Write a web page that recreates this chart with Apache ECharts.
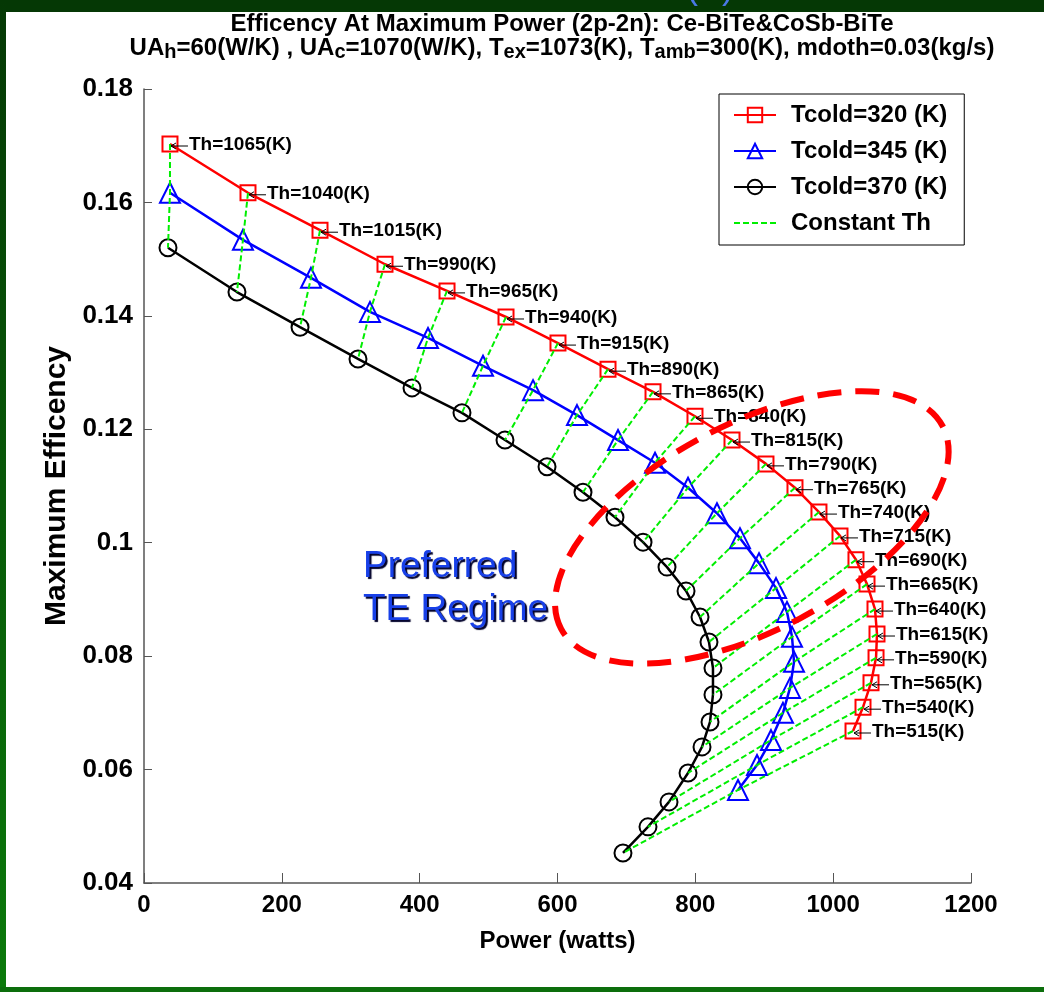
<!DOCTYPE html>
<html>
<head>
<meta charset="utf-8">
<script src="https://cdn.jsdelivr.net/npm/echarts@6/dist/echarts.min.js"></script>
<style>
  html, body { margin: 0; padding: 0; background: #ffffff; }
  #wrap { position: relative; width: 1044px; height: 992px; overflow: hidden; background: #ffffff; }
  .band { position: absolute; }
  #bandTop { left: 0; top: 0; width: 1044px; height: 12px; background: #053805; }
  #bandLeft { left: 0; top: 0; width: 6px; height: 992px; background: linear-gradient(#053805, #0b7a0b); }
  #bandBottom { left: 0; top: 987px; width: 1044px; height: 5px; background: #0c6e0c; }
  #chart { position: absolute; left: 0; top: 0; width: 1044px; height: 992px; }
</style>
</head>
<body>
<div id="wrap">
  <div class="band" id="bandTop"></div>
  <div class="band" id="bandLeft"></div>
  <div class="band" id="bandBottom"></div>
  <div id="chart"></div>
</div>
<script>
// Hot-side temperature of each operating point (K), common to all three cold-side curves
const thK = [1065, 1040, 1015, 990, 965, 940, 915, 890, 865, 840, 815, 790,
             765, 740, 715, 690, 665, 640, 615, 590, 565, 540, 515];

// Tcold = 320 K
const powerTc320 = [37.7, 150.9, 255.4, 349.7, 439.7, 525.3, 600.7, 673.3, 738.6, 799.5, 853.2, 902.5,
                    944.6, 979.4, 1009.9, 1033.1, 1049.1, 1060.7, 1063.6, 1062.2, 1054.9, 1043.3, 1028.8];
const effTc320 = [0.1703, 0.1617, 0.1551, 0.1491, 0.1444, 0.1398, 0.1352, 0.1306, 0.1266, 0.1223, 0.1181, 0.1139,
                  0.1097, 0.1054, 0.1012, 0.0970, 0.0927, 0.0883, 0.0839, 0.0797, 0.0753, 0.0710, 0.0668];

// Tcold = 345 K
const powerTc345 = [37.7, 143.6, 242.3, 327.9, 412.1, 491.9, 564.5, 628.3, 687.8, 741.5, 789.4, 831.4,
                    864.8, 892.4, 917.1, 933.0, 940.3, 943.2, 937.4, 927.2, 909.8, 889.5, 861.9];
const effTc345 = [0.1617, 0.1534, 0.1467, 0.1407, 0.1361, 0.1312, 0.1269, 0.1225, 0.1181, 0.1141, 0.1097, 0.1052,
                  0.1008, 0.0964, 0.0920, 0.0878, 0.0834, 0.0790, 0.0744, 0.0700, 0.0652, 0.0608, 0.0564];

// Tcold = 370 K
const powerTc370 = [34.8, 134.9, 226.4, 310.5, 388.9, 461.4, 523.8, 584.8, 637.0, 683.4, 724.1, 758.9,
                    786.5, 806.8, 819.8, 825.6, 825.6, 821.3, 809.7, 789.4, 761.8, 731.3, 695.0];
const effTc370 = [0.1520, 0.1442, 0.1380, 0.1324, 0.1273, 0.1229, 0.1181, 0.1134, 0.1089, 0.1045, 0.1001, 0.0957,
                  0.0915, 0.0869, 0.0825, 0.0779, 0.0732, 0.0684, 0.0640, 0.0594, 0.0543, 0.0499, 0.0453];

const xTicks = [0, 200, 400, 600, 800, 1000, 1200];
const yTicks = [0.04, 0.06, 0.08, 0.1, 0.12, 0.14, 0.16, 0.18];

const legendNames = ['Tcold=320 (K)', 'Tcold=345 (K)', 'Tcold=370 (K)', 'Constant Th'];

const FONT = '"Liberation Sans", Arial, Helvetica, sans-serif';

const chart = echarts.init(document.getElementById('chart'), null, { renderer: 'canvas' });

const pairs = (xs, ys) => xs.map((x, i) => [x, ys[i]]);

// Curve with hollow (unfilled) markers
function curveSeries(name, xs, ys, color, symbol, size) {
  return {
    name: name,
    type: 'line',
    data: pairs(xs, ys),
    symbol: symbol,
    symbolSize: size,
    showAllSymbol: true,
    lineStyle: { color: color, width: 2.5 },
    itemStyle: { color: 'rgba(0,0,0,0)', borderColor: color, borderWidth: 2 },
    emphasis: { disabled: true },
    z: 3,
    animation: false
  };
}

// Dashed iso-Th connectors: one short polyline per hot-side temperature
const constThSeries = thK.map((t, i) => ({
  name: 'Constant Th',
  type: 'line',
  data: [[powerTc320[i], effTc320[i]], [powerTc345[i], effTc345[i]], [powerTc370[i], effTc370[i]]],
  symbol: 'none',
  lineStyle: { color: '#00ee00', width: 2, type: [6, 3] },
  itemStyle: { color: '#00ee00', opacity: 0 },
  emphasis: { disabled: true },
  z: 4,
  animation: false
}));

// Arrow + "Th=...(K)" annotation attached to each Tcold=320 point
const labelSeries = {
  name: 'thLabels',
  type: 'custom',
  coordinateSystem: 'cartesian2d',
  data: thK.map((t, i) => [powerTc320[i], effTc320[i], t]),
  encode: { x: 0, y: 1 },
  clip: false,
  silent: true,
  z: 6,
  animation: false,
  renderItem: function (params, api) {
    const p = api.coord([api.value(0), api.value(1)]);
    const x = p[0], y = p[1] + 2;
    return {
      type: 'group',
      children: [
        { type: 'line', shape: { x1: x + 1, y1: y, x2: x + 18, y2: y },
          style: { stroke: '#000', lineWidth: 1 } },
        { type: 'polyline', shape: { points: [[x + 6, y - 3], [x + 1, y], [x + 6, y + 3]] },
          style: { stroke: '#000', lineWidth: 1, fill: null } },
        { type: 'text', x: x + 19, y: p[1] + 1,
          style: { text: 'Th=' + api.value(2) + '(K)', fontSize: 19, fontWeight: 'bold',
                   fontFamily: FONT, fill: '#000', align: 'left', verticalAlign: 'middle' } }
      ]
    };
  }
};

const option = {
  backgroundColor: 'transparent',
  animation: false,
  title: [
    {
      text: 'Efficency At Maximum Power (2p-2n): Ce-BiTe&CoSb-BiTe',
      left: 557, top: 7, textAlign: 'center',
      textStyle: { fontSize: 24, fontWeight: 'bold', fontFamily: FONT, color: '#000' }
    },
    {
      text: '{n|UA}{s|h}{n|=60(W/K) , UA}{s|c}{n|=1070(W/K), T}{s|ex}{n|=1073(K), T}{s|amb}{n|=300(K), mdoth=0.03(kg/s)}',
      left: 557, top: 31, textAlign: 'center',
      textStyle: {
        rich: {
          n: { fontSize: 24, fontWeight: 'bold', fontFamily: FONT, color: '#000', lineHeight: 26, verticalAlign: 'top' },
          s: { fontSize: 20, fontWeight: 'bold', fontFamily: FONT, color: '#000', lineHeight: 22, padding: [20, 0, 0, 0], verticalAlign: 'bottom' }
        }
      }
    }
  ],
  grid: { left: 144, right: 73, top: 89, bottom: 109, containLabel: false },
  legend: {
    data: legendNames.slice(0, 3).concat([{ name: legendNames[3], itemStyle: { opacity: 0 } }]),
    orient: 'vertical',
    left: 719, top: 94,
    padding: [9, 17, 10, 14],
    itemGap: 12,
    itemWidth: 42,
    itemHeight: 18,
    backgroundColor: '#fff',
    borderColor: '#000',
    borderWidth: 1,
    borderRadius: 0,
    selectedMode: false,
    textStyle: { fontSize: 24, fontWeight: 'bold', fontFamily: FONT, color: '#000', padding: [0, 0, 0, 10] }
  },
  xAxis: {
    type: 'value',
    min: xTicks[0], max: xTicks[xTicks.length - 1], interval: xTicks[1] - xTicks[0],
    name: 'Power (watts)', nameLocation: 'middle', nameGap: 46,
    nameTextStyle: { fontSize: 24, fontWeight: 'bold', fontFamily: FONT, color: '#000' },
    axisLine: { show: true, onZero: false, lineStyle: { color: '#555', width: 1.5 } },
    axisTick: { show: true, inside: true, length: 10, lineStyle: { color: '#555', width: 1 } },
    axisLabel: { margin: 10, fontSize: 24, fontWeight: 'bold', fontFamily: FONT, color: '#000',
                 formatter: v => String(v) },
    splitLine: { show: false }
  },
  yAxis: {
    type: 'value',
    min: yTicks[0], max: yTicks[yTicks.length - 1], interval: 0.02,
    name: 'Maximum Efficency', nameLocation: 'middle', nameGap: 69, nameRotate: 90,
    nameTextStyle: { fontSize: 30, fontWeight: 'bold', fontFamily: FONT, color: '#000' },
    axisLine: { show: true, onZero: false, lineStyle: { color: '#555', width: 1.5 } },
    axisTick: { show: true, inside: true, length: 8, lineStyle: { color: '#555', width: 1 } },
    axisLabel: { margin: 11, fontSize: 26, fontWeight: 'bold', fontFamily: FONT, color: '#000',
                 formatter: v => String(+v.toFixed(2)) },
    splitLine: { show: false }
  },
  series: [
    curveSeries(legendNames[0], powerTc320, effTc320, '#ff0000', 'rect', 15),
    curveSeries(legendNames[1], powerTc345, effTc345, '#0000ff', 'triangle', 20),
    curveSeries(legendNames[2], powerTc370, effTc370, '#000000', 'circle', 17)
  ].concat(constThSeries, [labelSeries])
};

chart.setOption(option);

// "Preferred TE Regime" call-out: a tilted dashed ellipse around the upper part of the curves
const regimeCentre = chart.convertToPixel({ gridIndex: 0 }, [882, 0.1027]);
chart.setOption({
  graphic: [
    {
      type: 'ellipse',
      x: regimeCentre[0], y: regimeCentre[1],
      rotation: 28 * Math.PI / 180,
      shape: { cx: 0, cy: 0, rx: 216, ry: 103 },
      style: { fill: null, stroke: '#ff0000', lineWidth: 6, lineDash: [24, 14] },
      z: 20, silent: true
    },
    {
      type: 'text',
      left: 363, top: 545,
      style: {
        text: 'Preferred\nTE Regime', fontSize: 37, lineHeight: 43, fontFamily: FONT,
        fill: '#1840e8', textShadowColor: '#00002a', textShadowOffsetX: 2, textShadowOffsetY: 2,
        textShadowBlur: 1
      },
      z: 21, silent: true
    },
    {
      type: 'text',
      left: 686, top: -30,
      style: { text: '(K)', fontSize: 36, fontFamily: FONT, fill: '#4a78e6' },
      z: 22, silent: true
    }
  ]
});
</script>
</body>
</html>
